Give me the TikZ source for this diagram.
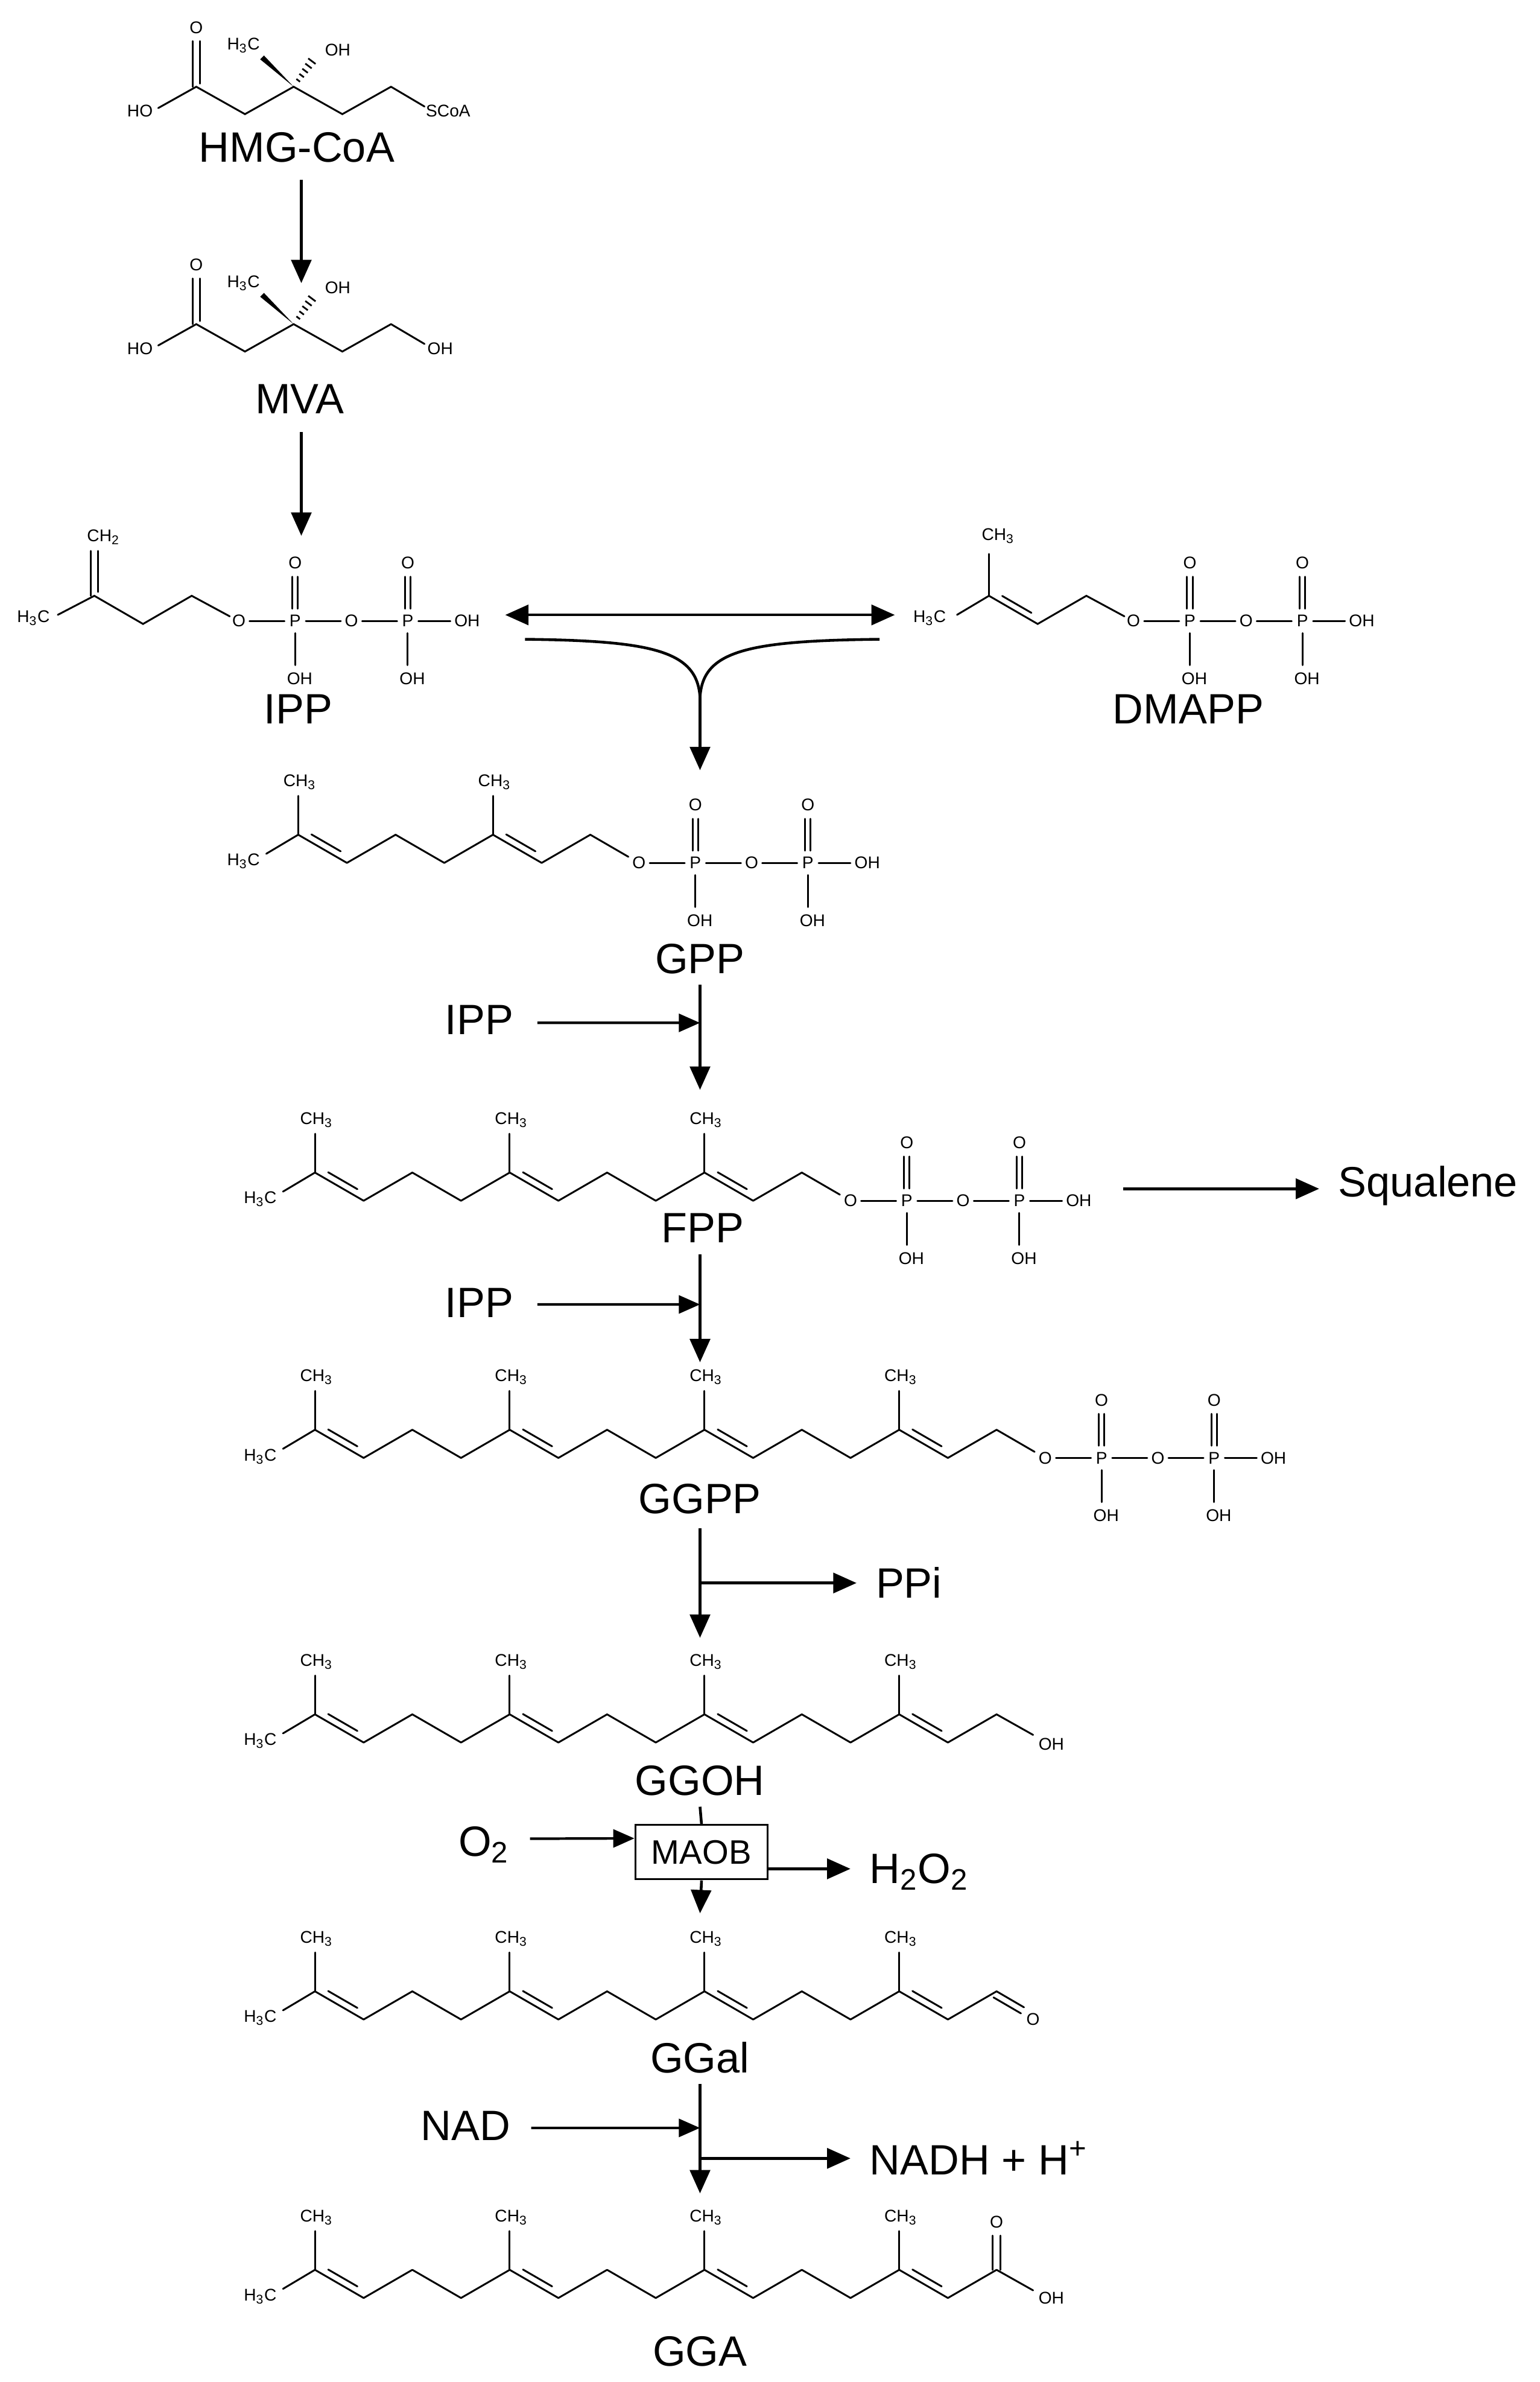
\documentclass[tikz,border=0pt]{standalone}
\usepackage{fontspec}
\setmainfont{Liberation Sans}
\usetikzlibrary{arrows.meta}
\tikzset{
  bond/.style={line width=0.85pt, line cap=round},
  flow/.style={line width=1.3pt,-{Triangle[length=11pt,width=9.5pt]}},
  sflow/.style={line width=1.2pt,-{Triangle[length=10pt,width=8.5pt]}},
  flowline/.style={line width=1.3pt},
  gap/.style={shorten >=8pt},
  big/.style={font=\fontsize{20}{22}\selectfont, inner sep=1pt},
  atom/.style={font=\fontsize{8}{9}\selectfont, inner sep=0.5pt},
}
\newcommand\chain[3]{\foreach \i in {1,...,#3}{%
  \pgfmathsetmacro\xa{#1+(\i-1)*32}\pgfmathsetmacro\xb{#1+\i*32}%
  \pgfmathsetmacro\ya{#2-18.5*(1-mod(\i-1,2))}\pgfmathsetmacro\yb{#2-18.5*(1-mod(\i,2))}%
  \draw[bond] (\xa,\ya)--(\xb,\yb);}}
\newcommand\dbond[3]{% x0 yd k (k even)
  \pgfmathsetmacro\xa{#1+#3*32+6.4+2.3}\pgfmathsetmacro\xb{#1+#3*32+25.6+2.3}%
  \pgfmathsetmacro\ya{#2-18.5+3.7-3.9}\pgfmathsetmacro\yb{#2-3.7-3.9}%
  \draw[bond] (\xa,\ya)--(\xb,\yb);}
\newcommand\methyl[3]{% x0 yd k
  \pgfmathsetmacro\xa{#1+#3*32}%
  \draw[bond] (\xa,#2-18.5)--(\xa,#2-44);
  \node[atom] at (\xa+1,#2-53) {CH\textsubscript{3}};}
\newcommand\headHC[2]{%
  \draw[bond] (#1,#2-18.5)--(#1-21,#2-6);
  \node[atom] at (#1-36,#2-1) {H\textsubscript{3}C};}
\newcommand\pp[2]{% xO y
  \node[atom] at (#1,#2) {O};
  \node[atom] at (#1+37,#2) {P};
  \node[atom] at (#1+74,#2) {O};
  \node[atom] at (#1+111,#2) {P};
  \node[atom] at (#1+150,#2) {OH};
  \draw[bond] (#1+7,#2)--(#1+30,#2) (#1+44,#2)--(#1+67,#2) (#1+81,#2)--(#1+104,#2) (#1+118,#2)--(#1+139,#2);
  \foreach \px in {#1+37,#1+111}{
    \draw[bond] (\px-1.8,#2-8)--(\px-1.8,#2-29) (\px+1.8,#2-8)--(\px+1.8,#2-29);
    \node[atom] at (\px,#2-38) {O};
    \draw[bond] (\px,#2+8)--(\px,#2+29);
    \node[atom] at (\px+3,#2+38) {OH};}}
\newcommand\hmgcore[1]{% y offset
  \draw[bond] (104,#1+71)--(129,#1+57)--(161,#1+75)--(193,#1+57)--(225,#1+75)--(257,#1+57);
  \draw[bond] (126.5,#1+57)--(126.5,#1+27) (131.5,#1+55)--(131.5,#1+27);
  \node[atom] at (129,#1+18) {O};
  \node[atom] at (92,#1+73) {HO};
  \fill (193,#1+57)--(173.5,#1+36.5)--(171,#1+39)--cycle;
  \foreach \t in {0.2,0.35,0.5,0.65,0.8}{
    \pgfmathsetmacro\hx{193+\t*15}\pgfmathsetmacro\hy{#1+57-\t*21}\pgfmathsetmacro\hw{1+\t*2.5}
    \draw[line width=0.8pt] (\hx-\hw*0.8,\hy-\hw*0.6)--(\hx+\hw*0.8,\hy+\hw*0.6);}
  \node[atom] at (160,#1+30) {H\textsubscript{3}C};
  \node[atom] at (222,#1+33) {OH};}
\begin{document}
\begin{tikzpicture}[x=0.02492cm,y=-0.02492cm]
\useasboundingbox (0,0) rectangle (1024,1584);
\begin{scope}[scale=1.012]
% HMG-CoA
\hmgcore{0}
\draw[bond] (257,57)--(279,70);
\node[atom,anchor=west] at (279,73) {SCoA};
\node[big] (hmg) at (195,97) {HMG-CoA};
% MVA
\hmgcore{156}
\draw[bond] (257,213)--(279,226);
\node[atom,anchor=west] at (280,229) {OH};
\node[big] (mva) at (197,262) {MVA};
\coordinate (a1s) at (198,118); \coordinate (a1e) at (198,186);
\draw[flow] (a1s)--(a1e);
\coordinate (a2s) at (198,284); \coordinate (a2e) at (198,352);
\draw[flow] (a2s)--(a2e);
% IPP
\draw[bond] (38,404)--(62,391.5)--(94,410)--(126,391.5)--(151,405);
\draw[bond] (59.5,391.5)--(59.5,362) (64.5,389)--(64.5,362);
\node[atom] at (68,353) {CH\textsubscript{2}};
\node[atom] at (22,406) {H\textsubscript{3}C};
\pp{157}{408}
\node[big] (ipp) at (196,466) {IPP};
% DMAPP
\draw[bond] (629,404)--(650,391.5)--(682,410)--(714,391.5)--(739,405);
\draw[bond] (658.7,391.6)--(677.9,402.7);
\draw[bond] (650,391.5)--(650,364);
\node[atom] at (656,352) {CH\textsubscript{3}};
\node[atom] at (611,406) {H\textsubscript{3}C};
\pp{745}{408}
\node[big] (dmapp) at (781,466) {DMAPP};
% double arrow and merge
\coordinate (dl) at (332,404); \coordinate (dr) at (588,404);
\draw[line width=1.3pt,{Triangle[length=11pt,width=9.5pt]}-{Triangle[length=11pt,width=9.5pt]}] (dl)--(dr);
\coordinate (ml) at (345,420); \coordinate (mr) at (578,420);
\coordinate (mm) at (460,458); \coordinate (gtop) at (460,506);
\draw[flowline] (ml) .. controls (430,421) and (458,428) .. (mm);
\draw[flowline] (mr) .. controls (490,421) and (462,428) .. (mm);
\draw[flow] (mm)--(gtop);
% GPP
\chain{196}{567}{6}
\headHC{196}{567}
\dbond{196}{567}{0}\dbond{196}{567}{4}
\methyl{196}{567}{0}\methyl{196}{567}{4}
\draw[bond] (388,548.5)--(413,563);
\pp{420}{567}
\node[big] (gpp) at (460,630) {GPP};
\node[big] (ipp2) at (315,670) {IPP};
\coordinate (g1) at (460,647); \coordinate (g2) at (460,716); \coordinate (g3) at (460,672);
\draw[flow] (g1)--(g2);
\draw[sflow] (ipp2.east)++(14,2) -- (g3);
% FPP
\chain{207}{789}{10}
\headHC{207}{789}
\foreach \k in {0,4,8}{\dbond{207}{789}{\k}\methyl{207}{789}{\k}}
\draw[bond] (527,770.5)--(552,785);
\pp{559}{789}
\node[big,anchor=west] (sq) at (878,779) {Squalene};
\node[big] (fpp) at (462,807) {FPP};
\coordinate (sq0) at (738,781);
\draw[flow,gap] (sq0)--(sq.west |- sq0);
\node[big] (ipp3) at (315,856) {IPP};
\coordinate (f1) at (460,824); \coordinate (f2) at (460,895); \coordinate (f3) at (460,857);
\draw[flow] (f1)--(f2);
\draw[sflow] (ipp3.east)++(14,1) -- (f3);
% GGPP
\chain{207}{958}{14}
\headHC{207}{958}
\foreach \k in {0,4,8,12}{\dbond{207}{958}{\k}\methyl{207}{958}{\k}}
\draw[bond] (655,939.5)--(680,954);
\pp{687}{958}
\node[big] (ggpp) at (460,985) {GGPP};
\coordinate (p1) at (460,1004); \coordinate (p2) at (460,1076); \coordinate (p3) at (460,1040);
\draw[flow] (p1)--(p2);
\node[big,anchor=west] (ppi) at (574,1040) {PPi};
\draw[flow,gap] (p3)--(ppi.west);
% GGOH
\chain{207}{1145}{14}
\headHC{207}{1145}
\foreach \k in {0,4,8,12}{\dbond{207}{1145}{\k}\methyl{207}{1145}{\k}}
\draw[bond] (655,1126.5)--(679,1140);
\node[atom] at (691,1146) {OH};
\node[big] (ggoh) at (460,1170) {GGOH};
\node[draw,line width=0.9pt,minimum width=88*0.02492cm,minimum height=36*0.02492cm,font=\fontsize{16}{18}\selectfont,inner sep=1pt] (maob) at (461,1217) {MAOB};
\coordinate (o1) at (460,1187); \coordinate (o2) at (460,1257);
\draw[flowline] (o1)--(maob.north);
\draw[flow] (maob.south)--(o2);
\node[big] (o2n) at (318,1212) {O\textsubscript{2}};
\draw[sflow] (o2n.east)++(12,-4) -- (maob.west |- 0,1208);
\node[big,anchor=west] (h2o2) at (570,1230) {H\textsubscript{2}O\textsubscript{2}};
\draw[flow,gap] (maob.east |- 0,1228)--(h2o2.west |- 0,1228);
% GGal
\chain{207}{1327}{14}
\headHC{207}{1327}
\foreach \k in {0,4,8,12}{\dbond{207}{1327}{\k}\methyl{207}{1327}{\k}}
\draw[bond] (655,1308.5)--(673,1319) (653,1312.5)--(671,1323);
\node[atom] at (679,1327) {O};
\node[big] (ggal) at (460,1352) {GGal};
\coordinate (l1) at (460,1369); \coordinate (l2) at (460,1441); \coordinate (l3) at (460,1398); \coordinate (l4) at (460,1418);
\draw[flow] (l1)--(l2);
\node[big] (nad) at (306,1397) {NAD};
\draw[sflow] (nad.east)++(12,1) -- (l3);
\node[big,anchor=west] (nadh) at (570,1418) {NADH + H\textsuperscript{+}};
\draw[flow,gap] (l4)--(nadh.west);
% GGA
\chain{207}{1510}{14}
\headHC{207}{1510}
\foreach \k in {0,4,8,12}{\dbond{207}{1510}{\k}\methyl{207}{1510}{\k}}
\draw[bond] (652.5,1491.5)--(652.5,1469) (657.5,1491.5)--(657.5,1469);
\node[atom] at (655,1460) {O};
\draw[bond] (655,1491.5)--(679,1505);
\node[atom] at (691,1510) {OH};
\node[big] (gga) at (460,1545) {GGA};
\end{scope}
\end{tikzpicture}
\end{document}
